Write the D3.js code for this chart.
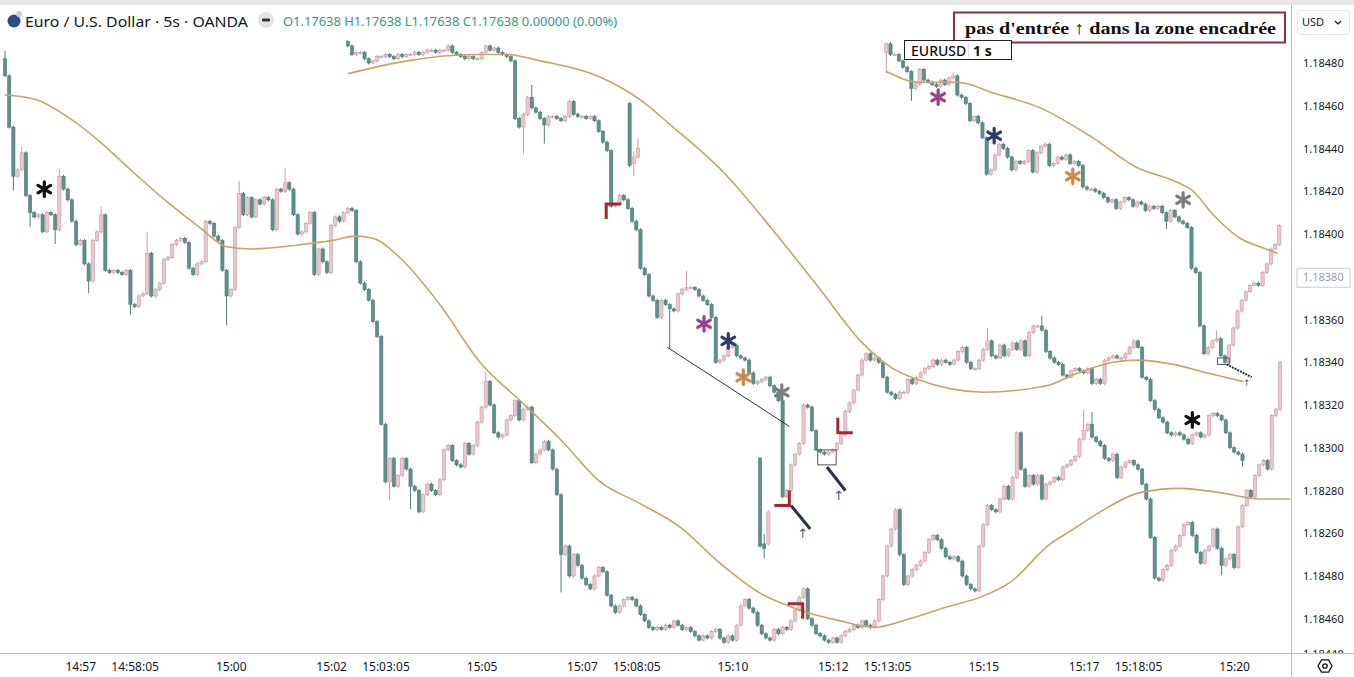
<!DOCTYPE html>
<html>
<head>
<meta charset="utf-8">
<script src="https://cdn.jsdelivr.net/npm/d3@7"></script>
<style>
  body { margin: 0; background: #fff; }
  svg { display: block; font-family: "Noto Sans", "DejaVu Sans", sans-serif; }
</style>
</head>
<body>
<div id="chart"></div>
<script>
/*******************************/
/*      Data (read by eye)     */
/*******************************/
// Bottom-left chart (5s candles), opens = previous close
const chart1Start = "14:55:30";
const chart1Open = 1.18482;
const chart1Close = [
  1.18474, 1.18450, 1.18427, 1.18430, 1.18438, 1.18418, 1.18410, 1.18408, 1.18409, 1.18401, 1.18410, 1.18409, 1.18402, 1.18427, 1.18421,
  1.18416, 1.18406, 1.18395, 1.18397, 1.18386, 1.18378, 1.18397, 1.18401, 1.18409, 1.18383, 1.18382, 1.18383, 1.18382, 1.18381, 1.18383,
  1.18367, 1.18366, 1.18371, 1.18372, 1.18391, 1.18371, 1.18374, 1.18377, 1.18388, 1.18389, 1.18395, 1.18397, 1.18398, 1.18396, 1.18384,
  1.18381, 1.18386, 1.18387, 1.18406, 1.18405, 1.18399, 1.18397, 1.18383, 1.18371, 1.18374, 1.18403, 1.18419, 1.18409, 1.18417, 1.18408,
  1.18416, 1.18414, 1.18417, 1.18416, 1.18402, 1.18421, 1.18420, 1.18424, 1.18421, 1.18409, 1.18400, 1.18401, 1.18405, 1.18410, 1.18381,
  1.18393, 1.18387, 1.18382, 1.18404, 1.18408, 1.18406, 1.18410, 1.18412, 1.18411, 1.18387, 1.18377, 1.18374, 1.18369, 1.18359, 1.18352,
  1.18311, 1.18284, 1.18295, 1.18282, 1.18287, 1.18295, 1.18290, 1.18282, 1.18280, 1.18270, 1.18278, 1.18283, 1.18280, 1.18278, 1.18285,
  1.18299, 1.18301, 1.18294, 1.18292, 1.18291, 1.18302, 1.18297, 1.18301, 1.18312, 1.18319, 1.18331, 1.18320, 1.18307, 1.18305, 1.18306,
  1.18313, 1.18315, 1.18322, 1.18313, 1.18318, 1.18319, 1.18293, 1.18297, 1.18299, 1.18303, 1.18299, 1.18290, 1.18278, 1.18250, 1.18254,
  1.18240, 1.18250, 1.18245, 1.18239, 1.18236, 1.18234, 1.18240, 1.18244, 1.18242, 1.18231, 1.18226, 1.18223, 1.18226, 1.18229, 1.18230,
  1.18229, 1.18226, 1.18222, 1.18219, 1.18216, 1.18215, 1.18216, 1.18215, 1.18217, 1.18216, 1.18219, 1.18217, 1.18215, 1.18216, 1.18214,
  1.18212, 1.18210, 1.18212, 1.18211, 1.18214, 1.18215, 1.18211, 1.18209, 1.18212, 1.18210, 1.18217, 1.18226, 1.18229, 1.18225, 1.18223,
  1.18217, 1.18213, 1.18211, 1.18210, 1.18215, 1.18213, 1.18216, 1.18215, 1.18219, 1.18224, 1.18230, 1.18234, 1.18220, 1.18217, 1.18213,
  1.18212, 1.18210, 1.18209, 1.18211, 1.18209, 1.18212, 1.18214, 1.18215, 1.18217, 1.18216, 1.18219, 1.18217, 1.18216, 1.18219, 1.18229,
  1.18240, 1.18254, 1.18262, 1.18271, 1.18250, 1.18236, 1.18240, 1.18243, 1.18245, 1.18247, 1.18251, 1.18257, 1.18259, 1.18257, 1.18253,
  1.18249, 1.18248, 1.18249, 1.18247, 1.18240, 1.18236, 1.18234, 1.18233, 1.18254, 1.18264, 1.18273, 1.18271, 1.18270, 1.18276, 1.18282,
  1.18276, 1.18286, 1.18307, 1.18290, 1.18282, 1.18287, 1.18283, 1.18287, 1.18276, 1.18283, 1.18284, 1.18286, 1.18285, 1.18291, 1.18292,
  1.18294, 1.18296, 1.18304, 1.18308, 1.18311, 1.18305, 1.18303, 1.18301, 1.18295, 1.18294, 1.18297, 1.18286, 1.18291, 1.18293, 1.18294,
  1.18292, 1.18290, 1.18283, 1.18276, 1.18258, 1.18239, 1.18238, 1.18243, 1.18245, 1.18252, 1.18254, 1.18259, 1.18264, 1.18265, 1.18259,
  1.18251, 1.18246, 1.18252, 1.18254, 1.18262, 1.18253, 1.18245, 1.18248, 1.18250, 1.18244, 1.18263, 1.18273, 1.18280, 1.18277, 1.18287,
  1.18292, 1.18294, 1.18290, 1.18315, 1.18318, 1.18340
];
// [candle index, high, low] for the long wicks
const chart1Wicks = [
  [0, 1.18485, null], [2, null, 1.18421], [4, 1.18440, null], [6, null, 1.18404], [12, null, 1.18396],
  [13, 1.18430, null], [20, null, 1.18373], [23, 1.18412, null], [30, null, 1.18363], [34, 1.18400, null],
  [53, null, 1.18358], [56, 1.18424, null], [67, 1.18430, null], [92, null, 1.18276], [97, null, 1.18272],
  [115, 1.18335, null], [133, null, 1.18233], [258, 1.18317, null], [260, 1.18316, null], [291, null, 1.18241]
];

// Middle chart
const chart2Start = "15:02:20";
const chart2Open = 1.18490;
const chart2Close = [
  1.18488, 1.18484, 1.18485, 1.18485, 1.18482, 1.18480, 1.18481, 1.18483, 1.18483, 1.18484, 1.18483, 1.18482, 1.18484, 1.18483, 1.18484,
  1.18484, 1.18485, 1.18484, 1.18485, 1.18486, 1.18486, 1.18485, 1.18486, 1.18486, 1.18488, 1.18485, 1.18484, 1.18483, 1.18482, 1.18483,
  1.18482, 1.18482, 1.18485, 1.18488, 1.18486, 1.18487, 1.18485, 1.18484, 1.18483, 1.18481, 1.18454, 1.18450, 1.18456, 1.18464, 1.18459,
  1.18457, 1.18454, 1.18451, 1.18455, 1.18455, 1.18454, 1.18453, 1.18455, 1.18462, 1.18456, 1.18455, 1.18455, 1.18454, 1.18455, 1.18453,
  1.18448, 1.18443, 1.18439, 1.18413, 1.18414, 1.18418, 1.18416, 1.18412, 1.18406, 1.18402, 1.18384, 1.18381, 1.18371, 1.18369, 1.18361,
  1.18369, 1.18367, 1.18365, 1.18364, 1.18372, 1.18374, 1.18375, 1.18375, 1.18374, 1.18371, 1.18369, 1.18367, 1.18361, 1.18340, 1.18341,
  1.18343, 1.18347, 1.18348, 1.18343, 1.18342, 1.18341, 1.18335, 1.18330, 1.18331, 1.18332, 1.18333, 1.18329, 1.18326, 1.18322, 1.18277,
  1.18280, 1.18292, 1.18297, 1.18302, 1.18320, 1.18319, 1.18308, 1.18299, 1.18298, 1.18297, 1.18298, 1.18299, 1.18302, 1.18306, 1.18317,
  1.18321, 1.18327, 1.18334, 1.18341, 1.18344, 1.18341, 1.18342, 1.18340, 1.18333, 1.18326, 1.18325, 1.18323, 1.18326, 1.18326, 1.18332,
  1.18330, 1.18333, 1.18335, 1.18337, 1.18338, 1.18341, 1.18339, 1.18341, 1.18340, 1.18339, 1.18341, 1.18345, 1.18347, 1.18340, 1.18337,
  1.18337, 1.18341, 1.18346, 1.18350, 1.18343, 1.18342, 1.18348, 1.18343, 1.18346, 1.18349, 1.18346, 1.18350, 1.18343, 1.18354, 1.18357,
  1.18357, 1.18355, 1.18345, 1.18342, 1.18340, 1.18339, 1.18334, 1.18333, 1.18336, 1.18337, 1.18336, 1.18335, 1.18337, 1.18330, 1.18332,
  1.18330, 1.18341, 1.18342, 1.18343, 1.18342, 1.18342, 1.18344, 1.18347, 1.18350, 1.18347, 1.18333, 1.18332, 1.18322, 1.18318, 1.18314,
  1.18312, 1.18307, 1.18306, 1.18307, 1.18306, 1.18304, 1.18302, 1.18306, 1.18307, 1.18305, 1.18306, 1.18315, 1.18316, 1.18315, 1.18313,
  1.18307, 1.18300, 1.18298, 1.18297, 1.18294
];
const chart2Wicks = [
  [42, null, 1.18438], [44, 1.18469, null], [47, null, 1.18443], [77, null, 1.18347],
  [81, 1.18382, null], [153, 1.18355, null], [166, 1.18361, null], [214, null, 1.18292]
];

// Top-right chart (EURUSD 1 s)
const chart3Start = "15:13:04";
const chart3Open = 1.18485;
const chart3Close = [
  1.18489, 1.18484, 1.18484, 1.18481, 1.18478, 1.18476, 1.18468, 1.18470, 1.18477, 1.18472, 1.18471, 1.18470, 1.18469, 1.18472, 1.18470,
  1.18473, 1.18474, 1.18465, 1.18464, 1.18461, 1.18453, 1.18455, 1.18452, 1.18445, 1.18428, 1.18430, 1.18437, 1.18442, 1.18440, 1.18436,
  1.18430, 1.18434, 1.18433, 1.18434, 1.18439, 1.18429, 1.18438, 1.18441, 1.18442, 1.18432, 1.18433, 1.18436, 1.18435, 1.18437, 1.18433,
  1.18434, 1.18432, 1.18422, 1.18421, 1.18421, 1.18420, 1.18419, 1.18417, 1.18415, 1.18416, 1.18412, 1.18415, 1.18417, 1.18416, 1.18413,
  1.18415, 1.18414, 1.18411, 1.18413, 1.18412, 1.18413, 1.18410, 1.18406, 1.18411, 1.18408, 1.18406, 1.18405, 1.18403, 1.18384, 1.18382,
  1.18357, 1.18344, 1.18347, 1.18350, 1.18351, 1.18343, 1.18340, 1.18348, 1.18356, 1.18364, 1.18369, 1.18373, 1.18376, 1.18377, 1.18376,
  1.18382, 1.18386, 1.18393, 1.18395, 1.18404
];
const chart3Wicks = [
  [0, null, 1.18476], [6, null, 1.18463], [16, 1.18475, null], [67, null, 1.18403], [79, 1.18354, null]
];

// Two pasted fragments (three candles each)
const fragAStart = "15:07:57";
const fragAOpen = [1.18461, 1.18433, 1.18436];
const fragAClose = [1.18432, 1.18436, 1.18440];
const fragAHigh = [1.18461, 1.18438, 1.18444];
const fragALow = [1.18432, 1.18428, 1.18436];
const fragBStart = "15:10:33";
const fragBOpen = [1.18295, 1.18255, 1.18255];
const fragBClose = [1.18254, 1.18253, 1.18270];
const fragBHigh = [1.18295, 1.18259, 1.18270];
const fragBLow = [1.18254, 1.18249, 1.18255];

// Moving averages (time, price)
const ma1Times = ["14:55:30","14:56:06","14:56:44","14:57:24","14:58:03","14:58:44","14:59:23","14:59:55","15:00:23","15:01:23","15:02:02","15:02:29","15:02:50","15:03:22","15:04:10","15:04:58","15:05:46","15:06:34","15:07:22","15:08:09","15:08:57","15:09:45","15:10:33","15:11:21","15:12:09","15:12:50","15:13:32","15:14:20","15:14:56","15:15:32","15:16:20","15:16:44","15:17:20","15:18:07","15:18:55","15:19:43","15:20:31","15:21:07"];
const ma1Values = [1.18465, 1.18463, 1.18455, 1.18443, 1.18429, 1.18415, 1.18403, 1.18394, 1.18393, 1.18395, 1.18397, 1.18399, 1.18398, 1.18389, 1.18367, 1.18340, 1.18322, 1.18304, 1.18284, 1.18274, 1.18263, 1.18246, 1.18232, 1.18224, 1.18219, 1.18216, 1.18220, 1.18226, 1.18230, 1.18237, 1.18255, 1.18261, 1.18270, 1.18279, 1.18281, 1.18279, 1.18276, 1.18276];
const ma2Times = ["15:02:20","15:03:31","15:04:50","15:05:30","15:06:10","15:07:18","15:08:09","15:08:49","15:09:49","15:10:48","15:11:45","15:12:33","15:13:12","15:13:41","15:15:00","15:16:16","15:16:47","15:17:35","15:18:04","15:18:47","15:19:28","15:20:11"];
const ma2Values = [1.18475, 1.18481, 1.18484, 1.18484, 1.18481, 1.18474, 1.18463, 1.18450, 1.18429, 1.18402, 1.18374, 1.18350, 1.18337, 1.18332, 1.18326, 1.18329, 1.18334, 1.18340, 1.18341, 1.18339, 1.18335, 1.18331];
const ma3Times = ["15:13:04","15:13:44","15:14:29","15:15:12","15:16:08","15:17:11","15:18:04","15:18:47","15:19:11","15:19:35","15:20:07","15:20:31","15:20:52"];
const ma3Values = [1.18476, 1.18471, 1.18471, 1.18466, 1.18459, 1.18445, 1.18431, 1.18425, 1.18420, 1.18409, 1.18398, 1.18394, 1.18391];

// Annotations (time, price)
const starTimes = ["14:56:17","15:09:26","15:09:55","15:10:13","15:10:59","15:14:06","15:15:13","15:16:47","15:18:59","15:19:10"];
const starPrices = [1.18421, 1.18358, 1.18350, 1.18333, 1.18326, 1.18464, 1.18446, 1.18427, 1.18416, 1.18313];
const cornerTimes = ["15:07:29","15:11:08","15:12:06","15:11:24"];
const cornerPrices = [1.18414, 1.18273, 1.18307, 1.18227];
const cornerShapes = ["┏","┘","└","┐"];
const arrowFromTimes = ["15:11:10","15:11:53","15:19:51"];
const arrowFromPrices = [1.18273, 1.18291, 1.18339];
const arrowToTimes = ["15:11:33","15:12:15","15:20:21"];
const arrowToPrices = [1.18262, 1.18280, 1.18333];
const upTimes = ["15:11:24","15:12:07","15:20:15"];
const upPrices = [1.18260, 1.18278, 1.18331];
const trendTimes = ["15:08:42","15:11:08"];
const trendPrices = [1.18347, 1.18310];
const boxTimes = [["15:11:42","15:12:04"], ["15:19:40","15:19:54"]];
const boxPrices = [[1.18299, 1.18292], [1.18342, 1.18339]];

// Axes
const yTickValues = [1.18480, 1.18460, 1.18440, 1.18420, 1.18400, 1.18380, 1.18360, 1.18340, 1.18320, 1.18300, 1.18280, 1.18260, 1.18240, 1.18220, 1.18200];
const yTickLabels = ["1.18480","1.18460","1.18440","1.18420","1.18400","1.18380","1.18360","1.18340","1.18320","1.18300","1.18280","1.18260","1.18480","1.18460","1.18440"];
const highlightedLabel = "1.18380";
const xTickTimes = ["14:57:00","14:58:05","15:00:00","15:02:00","15:03:05","15:05:00","15:07:00","15:08:05","15:10:00","15:12:00","15:13:05","15:15:00","15:17:00","15:18:05","15:20:00"];
const xTickLabels = ["14:57","14:58:05","15:00","15:02","15:03:05","15:05","15:07","15:08:05","15:10","15:12","15:13:05","15:15","15:17","15:18:05","15:20"];


/*******************************/
/*    Declare the constants    */
/*******************************/
const width = 1354;
const height = 677;
const plotRight = 1291;
const plotBottom = 653;
const bullFill = "#ebc8cd";
const bullLine = "#c99aa2";
const bearFill = "#5f8f8c";
const bearLine = "#4e7c7a";
const maColor = "#c6a46c";
const starColors = ["#111111", "#9b3f8e", "#2f3a6e", "#c98b50", "#7d7d7d", "#9b3f8e", "#2f3a6e", "#c98b50", "#7d7d7d", "#111111"];

const parseTime = d3.timeParse("%H:%M:%S");


/*******************************/
/*    Append the containers    */
/*******************************/
const svg = d3.select("#chart")
  .append("svg")
    .attr("width", width)
    .attr("height", height)
    .attr("viewBox", `0 0 ${width} ${height}`);

svg.append("rect")
    .attr("width", width)
    .attr("height", height)
    .attr("fill", "#fff");

svg.append("defs")
  .append("clipPath")
    .attr("id", "plot-clip")
  .append("rect")
    .attr("x", 0)
    .attr("y", 5)
    .attr("width", plotRight)
    .attr("height", plotBottom - 5);

svg.append("defs")
  .append("clipPath")
    .attr("id", "axis-clip")
  .append("rect")
    .attr("x", plotRight)
    .attr("y", 36)
    .attr("width", width - plotRight)
    .attr("height", plotBottom - 36);

const plot = svg.append("g").attr("clip-path", "url(#plot-clip)");


/****************************/
/*    Declare the scales    */
/****************************/
const xScale = d3.scaleTime()
  .domain([parseTime("14:55:24"), parseTime("15:21:08")])
  .range([0, plotRight]);

const yScale = d3.scaleLinear()
  .domain([1.18480, 1.18200])
  .range([63, 661.5]);


/*******************************/
/*      Build the candles      */
/*******************************/
const buildSeries = (start, open0, closes, wicks) => {
  const t0 = parseTime(start);
  const series = closes.map((c, i) => {
    const o = i === 0 ? open0 : closes[i - 1];
    return {t: d3.timeSecond.offset(t0, 5 * i), o, c, h: Math.max(o, c), l: Math.min(o, c)};
  });
  wicks.forEach(([i, h, l]) => {
    if (h !== null) series[i].h = h;
    if (l !== null) series[i].l = l;
  });
  return series;
};

const buildFragment = (start, opens, closes, highs, lows) => {
  const t0 = parseTime(start);
  return opens.map((o, i) => ({t: d3.timeSecond.offset(t0, 5 * i), o, c: closes[i], h: highs[i], l: lows[i]}));
};

const drawCandles = (data) => {
  const g = plot.append("g");
  const isBull = d => d.c >= d.o;
  g.selectAll("line")
    .data(data)
    .join("line")
      .attr("x1", d => xScale(d.t))
      .attr("x2", d => xScale(d.t))
      .attr("y1", d => yScale(d.h) - 1.5)
      .attr("y2", d => yScale(d.l) + 1.5)
      .attr("stroke", d => isBull(d) ? bullLine : bearLine)
      .attr("stroke-width", 1);
  g.selectAll("rect")
    .data(data)
    .join("rect")
      .attr("x", d => xScale(d.t) - 1.6)
      .attr("width", 3.2)
      .attr("y", d => yScale(Math.max(d.o, d.c)))
      .attr("height", d => Math.max(1.2, Math.abs(yScale(d.o) - yScale(d.c))))
      .attr("fill", d => isBull(d) ? bullFill : bearFill)
      .attr("stroke", d => isBull(d) ? bullLine : bearLine)
      .attr("stroke-width", 0.6);
};

drawCandles(buildSeries(chart1Start, chart1Open, chart1Close, chart1Wicks));
drawCandles(buildSeries(chart2Start, chart2Open, chart2Close, chart2Wicks));
drawCandles(buildSeries(chart3Start, chart3Open, chart3Close, chart3Wicks));
drawCandles(buildFragment(fragAStart, fragAOpen, fragAClose, fragAHigh, fragALow));
drawCandles(buildFragment(fragBStart, fragBOpen, fragBClose, fragBHigh, fragBLow));


/*******************************/
/*     Add moving averages     */
/*******************************/
const maLine = d3.line()
  .x(d => xScale(parseTime(d[0])))
  .y(d => yScale(d[1]))
  .curve(d3.curveMonotoneX);

[[ma1Times, ma1Values], [ma2Times, ma2Values], [ma3Times, ma3Values]].forEach(([times, values]) => {
  plot.append("path")
      .attr("d", maLine(d3.zip(times, values)))
      .attr("fill", "none")
      .attr("stroke", maColor)
      .attr("stroke-width", 1.6);
});


/*******************************/
/*       Add annotations       */
/*******************************/
// Thin trend line
plot.append("line")
    .attr("x1", xScale(parseTime(trendTimes[0])))
    .attr("y1", yScale(trendPrices[0]))
    .attr("x2", xScale(parseTime(trendTimes[1])))
    .attr("y2", yScale(trendPrices[1]))
    .attr("stroke", "#333")
    .attr("stroke-width", 1);

// Small boxes
boxTimes.forEach((bt, i) => {
  const x0 = xScale(parseTime(bt[0]));
  const x1 = xScale(parseTime(bt[1]));
  const y0 = yScale(boxPrices[i][0]);
  const y1 = yScale(boxPrices[i][1]);
  plot.append("rect")
      .attr("x", x0)
      .attr("y", y0)
      .attr("width", x1 - x0)
      .attr("height", y1 - y0)
      .attr("fill", "none")
      .attr("stroke", "#555")
      .attr("stroke-width", 1);
});

// Red corner markers
const arm = 15;
const cornerPath = (cx, cy, shape) => {
  if (shape === "┏") return `M${cx + arm},${cy}L${cx},${cy}L${cx},${cy + arm}`;
  if (shape === "┘") return `M${cx - arm},${cy}L${cx},${cy}L${cx},${cy - arm}`;
  if (shape === "└") return `M${cx},${cy - arm}L${cx},${cy}L${cx + arm},${cy}`;
  return `M${cx - arm},${cy}L${cx},${cy}L${cx},${cy + arm}`;
};
cornerTimes.forEach((t, i) => {
  plot.append("path")
      .attr("d", cornerPath(xScale(parseTime(t)), yScale(cornerPrices[i]), cornerShapes[i]))
      .attr("fill", "none")
      .attr("stroke", "#a3282c")
      .attr("stroke-width", 3);
});

// Navy arrows
arrowFromTimes.forEach((t, i) => {
  plot.append("line")
      .attr("x1", xScale(parseTime(t)))
      .attr("y1", yScale(arrowFromPrices[i]))
      .attr("x2", xScale(parseTime(arrowToTimes[i])))
      .attr("y2", yScale(arrowToPrices[i]))
      .attr("stroke", "#28324d")
      .attr("stroke-width", i === 2 ? 2 : 3)
      .attr("stroke-dasharray", i === 2 ? "2,1" : null);
});
upTimes.forEach((t, i) => {
  plot.append("text")
      .attr("x", xScale(parseTime(t)))
      .attr("y", yScale(upPrices[i]) + 5)
      .attr("text-anchor", "middle")
      .attr("font-family", "DejaVu Sans")
      .attr("font-size", i === 2 ? 9 : 13)
      .attr("fill", "#4d5a7c")
      .text("↑");
});

// Asterisks
starTimes.forEach((t, i) => {
  plot.append("path")
      .attr("transform", `translate(${xScale(parseTime(t))}, ${yScale(starPrices[i])})`)
      .attr("d", d3.symbol(d3.symbolAsterisk, 150)())
      .attr("fill", "none")
      .attr("stroke", starColors[i])
      .attr("stroke-width", 3.2)
      .attr("stroke-linecap", "round");
});


/**************************/
/*      Add the axes      */
/**************************/
const rightAxis = d3.axisRight(yScale)
  .tickValues(yTickValues)
  .tickFormat((d, i) => yTickLabels[i])
  .tickSize(0)
  .tickPadding(12);
const yAxisG = svg.append("g")
    .attr("clip-path", "url(#axis-clip)")
  .append("g")
    .attr("transform", `translate(${plotRight}, 0)`)
    .call(rightAxis);
yAxisG.select(".domain").remove();
yAxisG.selectAll("text")
    .attr("font-family", "Noto Sans")
    .attr("font-size", 11)
    .attr("fill", d => d3.format(".5f")(d) === highlightedLabel ? "#9a9ea8" : "#131722");
yAxisG.selectAll(".tick")
  .filter(d => d3.format(".5f")(d) === highlightedLabel)
  .insert("rect", "text")
    .attr("x", 6)
    .attr("y", -9)
    .attr("width", 53)
    .attr("height", 19)
    .attr("fill", "#fff")
    .attr("stroke", "#c9ccd3");
// The last label is half hidden under the bottom rule
yAxisG.selectAll(".tick")
  .filter((d, i) => i === yTickValues.length - 1)
  .attr("transform", `translate(0, ${plotBottom + 1})`);

const bottomAxis = d3.axisBottom(xScale)
  .tickValues(xTickTimes.map(parseTime))
  .tickFormat((d, i) => xTickLabels[i])
  .tickSize(0)
  .tickPadding(9);
const xAxisG = svg.append("g")
    .attr("transform", `translate(0, ${plotBottom})`)
    .call(bottomAxis);
xAxisG.select(".domain").remove();
xAxisG.selectAll("text")
    .attr("font-family", "Noto Sans")
    .attr("font-size", 12)
    .attr("fill", "#131722");

// Frame lines
svg.append("rect")
    .attr("width", width)
    .attr("height", 5)
    .attr("fill", "#e6e7e9");
svg.append("line")
    .attr("x1", plotRight + 0.5).attr("x2", plotRight + 0.5)
    .attr("y1", 5).attr("y2", height)
    .attr("stroke", "#b9bcc3");
svg.append("line")
    .attr("x1", 0).attr("x2", width)
    .attr("y1", plotBottom + 0.5).attr("y2", plotBottom + 0.5)
    .attr("stroke", "#b9bcc3");

// Currency selector
svg.append("rect")
    .attr("x", 1297.5).attr("y", 10.5)
    .attr("width", 52).attr("height", 24).attr("rx", 3)
    .attr("fill", "#fff").attr("stroke", "#e3e5ea");
svg.append("text")
    .attr("x", 1302).attr("y", 26)
    .attr("font-size", 11).attr("fill", "#131722")
    .text("USD");
svg.append("path")
    .attr("d", "M1335,21l3,3l3,-3")
    .attr("fill", "none").attr("stroke", "#131722").attr("stroke-width", 1.2);

// Settings icon
const hex = d3.range(6).map(k => [1325 + 7 * Math.cos(Math.PI / 3 * k), 666 + 7 * Math.sin(Math.PI / 3 * k)]);
svg.append("path")
    .attr("d", d3.line()(hex) + "Z")
    .attr("fill", "none").attr("stroke", "#131722").attr("stroke-width", 1.3);
svg.append("circle")
    .attr("cx", 1325).attr("cy", 666).attr("r", 2.2)
    .attr("fill", "none").attr("stroke", "#131722").attr("stroke-width", 1.3);


/*******************************/
/*         Add header          */
/*******************************/
svg.append("circle")
    .attr("cx", 14).attr("cy", 21).attr("r", 6.5)
    .attr("fill", "#2a4f86");
svg.append("circle")
    .attr("cx", 19).attr("cy", 14).attr("r", 3)
    .attr("fill", "#c9ced8");
svg.append("text")
    .attr("x", 25).attr("y", 27)
    .attr("font-size", 14.5).attr("fill", "#131722")
    .attr("textLength", 223).attr("lengthAdjust", "spacingAndGlyphs")
    .text("Euro / U.S. Dollar · 5s · OANDA");
svg.append("circle")
    .attr("cx", 266).attr("cy", 20).attr("r", 8)
    .attr("fill", "#e2e3e6");
svg.append("rect")
    .attr("x", 262).attr("y", 18.5).attr("width", 8).attr("height", 3).attr("rx", 1)
    .attr("fill", "#333");
svg.append("text")
    .attr("x", 283).attr("y", 26)
    .attr("font-size", 12).attr("fill", "#3a968b")
    .attr("textLength", 334).attr("lengthAdjust", "spacingAndGlyphs")
    .text("O1.17638 H1.17638 L1.17638 C1.17638 0.00000 (0.00%)");

// Framed note
svg.append("rect")
    .attr("x", 954).attr("y", 12.5)
    .attr("width", 331).attr("height", 30)
    .attr("fill", "#fff").attr("stroke", "#8f2d3b").attr("stroke-width", 2);
svg.append("text")
    .attr("x", 965).attr("y", 34)
    .attr("font-family", "Liberation Serif, DejaVu Serif, serif")
    .attr("font-weight", "bold").attr("font-size", 17.5).attr("fill", "#111")
    .attr("textLength", 311).attr("lengthAdjust", "spacingAndGlyphs")
    .text("pas d'entrée ↑ dans la zone encadrée");

// Symbol label
svg.append("rect")
    .attr("x", 904.5).attr("y", 40.5)
    .attr("width", 107).attr("height", 19)
    .attr("fill", "#fff").attr("stroke", "#222").attr("stroke-width", 1);
svg.append("line")
    .attr("x1", 968.5).attr("x2", 968.5).attr("y1", 43).attr("y2", 57)
    .attr("stroke", "#ddd");
svg.append("text")
    .attr("x", 911).attr("y", 56)
    .attr("font-size", 14).attr("font-weight", 500).attr("fill", "#111")
    .text("EURUSD");
svg.append("text")
    .attr("x", 973).attr("y", 56)
    .attr("font-size", 14).attr("font-weight", "bold").attr("fill", "#111")
    .text("1 s");
</script>
</body>
</html>
